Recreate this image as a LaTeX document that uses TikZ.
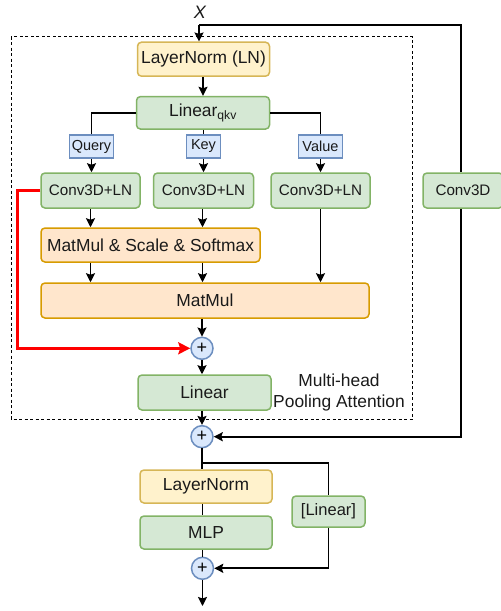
\documentclass[tikz,border=0pt]{standalone}
\usepackage{fontspec}
\setmainfont{Liberation Sans}
\usetikzlibrary{arrows.meta}
\definecolor{yelF}{HTML}{FFF2CC}\definecolor{yelD}{HTML}{D6B656}
\definecolor{grnF}{HTML}{D5E8D4}\definecolor{grnD}{HTML}{82B366}
\definecolor{bluF}{HTML}{DAE8FC}\definecolor{bluD}{HTML}{6C8EBF}
\definecolor{orgF}{HTML}{FFE6CC}\definecolor{orgD}{HTML}{D79B00}
\definecolor{txt}{HTML}{1A1A1A}
\begin{document}
\begin{tikzpicture}[x=1pt,y=-1pt,
  box/.style={draw, rounded corners=4pt, line width=1.5pt, inner sep=0pt, text=txt,
    font=\fontsize{17.4}{20}\selectfont},
  sbox/.style={box, font=\fontsize{15.2}{18}\selectfont},
  yel/.style={fill=yelF, draw=yelD},
  grn/.style={fill=grnF, draw=grnD},
  org/.style={fill=orgF, draw=orgD},
  tag/.style={draw=bluD, fill=bluF, line width=1.5pt, inner sep=0pt, text=txt,
    font=\fontsize{14.5}{17}\selectfont, minimum height=23pt},
  plus/.style={circle, draw=bluD, fill=bluF, line width=1.5pt, minimum size=22pt, inner sep=0pt,
    font=\fontsize{18}{18}\selectfont},
  conn/.style={line width=1.8pt, black},
  arr/.style={conn, -{Stealth[length=9pt,width=9pt,inset=1.5pt]}},
  redarr/.style={line width=2.6pt, red, -{Stealth[length=12pt,width=12pt,inset=2pt]}},
]
\useasboundingbox (0,0) rectangle (501,611);
% dashed container
\draw[black, line width=0.9pt, dash pattern=on 3pt off 2.5pt] (11,36.7) rectangle (412.7,419);
% nodes
\node[font=\fontsize{18}{18}\selectfont\itshape, text=txt] (x) at (200,12) {X};
\coordinate (xs) at (199,25);
\node[box,yel,minimum width=132pt,minimum height=34pt] (ln1) at (203.5,59.2) {LayerNorm (LN)};
\node[box,grn,minimum width=133pt,minimum height=32.5pt] (lqkv) at (203,112.8) {Linear\textsubscript{qkv}};
\node[tag,minimum width=44pt] (q) at (91.5,146.5) {Query};
\node[tag,minimum width=34pt] (k) at (203.5,146.5) {Key};
\node[tag,minimum width=44pt] (v) at (320.5,146.5) {Value};
\node[sbox,grn,minimum width=99pt,minimum height=35pt] (c1) at (90.5,190.5) {Conv3D+LN};
\node[sbox,grn,minimum width=100pt,minimum height=35pt] (c2) at (203.5,190.5) {Conv3D+LN};
\node[sbox,grn,minimum width=99pt,minimum height=35pt] (c3) at (320.5,190.5) {Conv3D+LN};
\node[sbox,grn,minimum width=80pt,minimum height=35pt] (c4) at (463,190.5) {Conv3D};
\node[box,org,minimum width=219pt,minimum height=34pt] (sm) at (150.5,245) {MatMul \& Scale \& Softmax};
\node[box,org,minimum width=328pt,minimum height=35pt] (mm) at (205,300.5) {MatMul};
\node[plus] (p1) at (202,348.3) {+};
\node[box,grn,minimum width=133pt,minimum height=35pt] (lin) at (204.5,392.5) {Linear};
\node[text=txt, align=center, font=\fontsize{17.4}{21}\selectfont] (mh) at (339,392.5) {Multi-head\\Pooling Attention};
\node[plus] (p2) at (202,436.7) {+};
\node[box,yel,minimum width=132pt,minimum height=33pt] (ln2) at (206,486.5) {LayerNorm};
\node[box,grn,minimum width=132pt,minimum height=33pt] (mlp) at (206,532.5) {MLP};
\node[sbox,grn,font=\fontsize{16.5}{19}\selectfont,minimum width=73pt,minimum height=31pt] (bl) at (328.5,511.5) {[Linear]};
\node[plus] (p3) at (202.5,568.3) {+};
\coordinate (out) at (202.5,606);
% connectors
\draw[conn] (xs) -| (c4.north -| 461,0);
\draw[arr] (c4.south -| 461,0) |- (p2.east);
\draw[arr] (xs) -- (xs |- ln1.north);
\draw[arr] (ln1.south -| 203,0) -- (lqkv.north -| 203,0);
\draw[conn] (lqkv.west |- 0,113.3) -| (q.north);
\draw[conn] (lqkv.east |- 0,113.3) -| (v.north);
\draw[conn] (lqkv.south -| k.north) -- (k.north);
\draw[arr] (q.south) -- (q.south |- c1.north);
\draw[arr] (k.south) -- (k.south |- c2.north);
\draw[arr] (v.south) -- (v.south |- c3.north);
\draw[arr] (c1.south) -- (c1.south |- sm.north);
\draw[arr] (c2.south -| 202.5,0) -- (sm.north -| 202.5,0);
\draw[arr] (sm.south -| c1.south) -- (mm.north -| c1.south);
\draw[arr] (sm.south -| 202.5,0) -- (mm.north -| 202.5,0);
\draw[arr] (c3.south) -- (mm.north -| c3.south);
\draw[arr] (mm.south -| p1.north) -- (p1.north);
\draw[redarr] (c1.west) -| (17.3,348.3) -- (p1.west);
\draw[arr] (p1.south) -- (p1.south |- lin.north);
\draw[arr] (lin.south -| p2.north) -- (p2.north);
\draw[conn] (p2.south) -- (p2.south |- ln2.north);
\draw[conn] (202,463) -| (bl.north);
\draw[conn] (ln2.south -| 202.5,0) -- (mlp.north -| 202.5,0);
\draw[conn] (mlp.south -| p3.north) -- (p3.north);
\draw[arr] (bl.south) |- (p3.east);
\draw[arr] (p3.south) -- (out);
\end{tikzpicture}
\end{document}
